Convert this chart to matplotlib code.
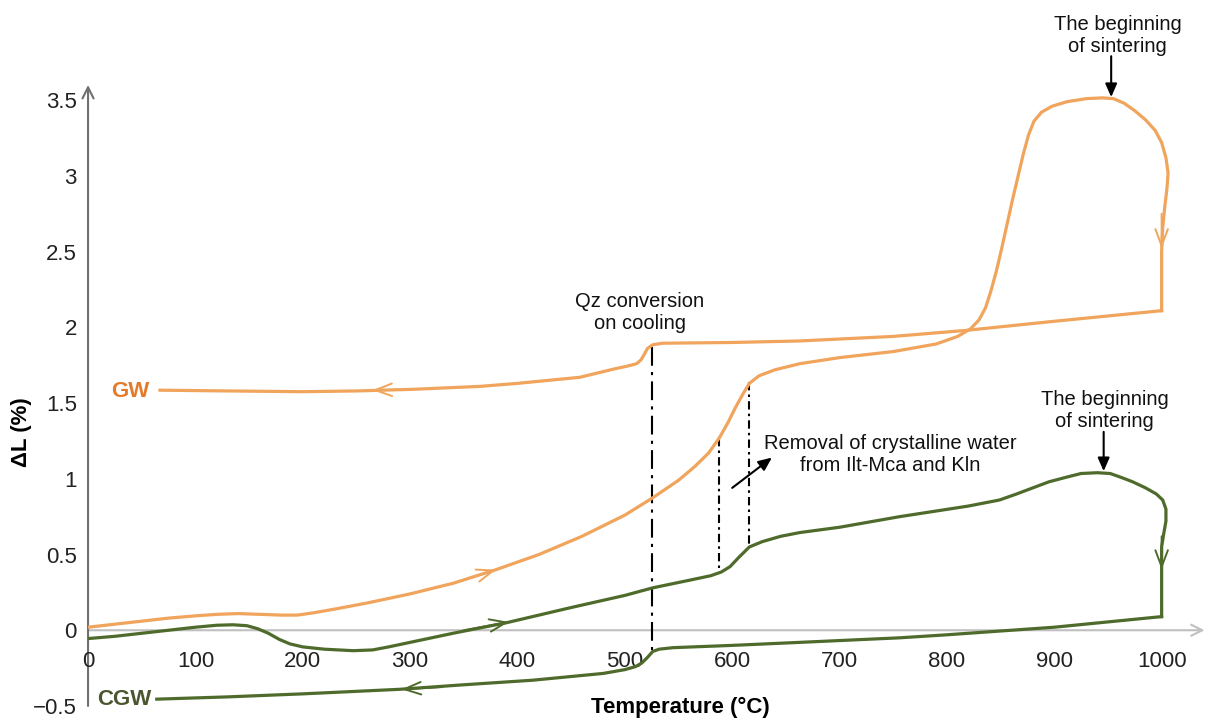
import matplotlib.pyplot as plt
import numpy as np

plt.rcParams["font.family"] = ["Liberation Sans", "DejaVu Sans"]

# -------------------------------------------------------
# DATA
# -------------------------------------------------------

# GW - heating branch (temperature, dL %)
gw_heat_t = [0, 25, 50, 75, 100, 120, 140, 160, 180, 195, 210, 230, 260, 300,
             340, 380, 420, 460, 500, 525, 550, 565, 578, 588, 596, 603, 610,
             616, 625, 640, 663, 700, 750, 790, 810, 822, 830, 836, 841, 846,
             851, 856, 861, 866, 871, 876, 881, 888, 898, 912, 930, 945, 955,
             965, 975, 985, 994, 1000, 1004, 1006, 1005, 1003, 1001, 1000, 1000]
gw_heat_dl = [0.02, 0.04, 0.06, 0.08, 0.095, 0.105, 0.11, 0.105, 0.10, 0.10,
              0.115, 0.14, 0.18, 0.24, 0.31, 0.40, 0.50, 0.62, 0.76, 0.87,
              0.99, 1.08, 1.17, 1.27, 1.37, 1.47, 1.56, 1.63, 1.68, 1.72, 1.76,
              1.80, 1.84, 1.89, 1.94, 1.99, 2.05, 2.13, 2.24, 2.37, 2.52, 2.68,
              2.84, 2.99, 3.14, 3.27, 3.36, 3.42, 3.46, 3.49, 3.51, 3.515,
              3.51, 3.48, 3.43, 3.37, 3.30, 3.22, 3.12, 3.02, 2.92, 2.80, 2.66,
              2.50, 2.11]

# GW - cooling branch
gw_cool_t = [1000, 900, 818, 750, 663, 600, 535, 526, 521, 518, 515, 511, 503,
             490, 458, 400, 365, 300, 250, 200, 130, 67]
gw_cool_dl = [2.11, 2.04, 1.98, 1.94, 1.91, 1.90, 1.895, 1.885, 1.86, 1.82,
              1.785, 1.76, 1.745, 1.725, 1.67, 1.63, 1.61, 1.59, 1.58, 1.575,
              1.58, 1.585]

# CGW - heating branch
cgw_heat_t = [0, 25, 50, 75, 100, 120, 135, 148, 158, 168, 178, 188, 200, 220,
              247, 265, 280, 300, 340, 390, 450, 500, 526, 560, 580, 590, 598,
              606, 616, 628, 645, 663, 700, 756, 820, 849, 865, 880, 895, 911,
              925, 940, 952, 962, 973, 985, 995, 1001, 1004, 1004, 1002, 1000,
              1000]
cgw_heat_dl = [-0.055, -0.04, -0.02, 0.0, 0.02, 0.033, 0.036, 0.03, 0.01,
               -0.02, -0.06, -0.09, -0.11, -0.125, -0.135, -0.13, -0.11, -0.08,
               -0.02, 0.05, 0.15, 0.23, 0.28, 0.33, 0.36, 0.385, 0.42, 0.48,
               0.55, 0.585, 0.62, 0.645, 0.68, 0.75, 0.82, 0.86, 0.90, 0.94,
               0.98, 1.01, 1.035, 1.04, 1.035, 1.01, 0.98, 0.94, 0.90, 0.86,
               0.80, 0.72, 0.64, 0.55, 0.09]

# CGW - cooling branch
cgw_cool_t = [1000, 900, 800, 756, 663, 600, 545, 532, 526, 521, 516, 510, 500,
              480, 414, 350, 290, 200, 130, 64]
cgw_cool_dl = [0.09, 0.02, -0.03, -0.05, -0.08, -0.10, -0.115, -0.125, -0.14,
               -0.18, -0.215, -0.24, -0.26, -0.285, -0.33, -0.36, -0.39, -0.42,
               -0.44, -0.455]

x_ticks = [0, 100, 200, 300, 400, 500, 600, 700, 800, 900, 1000]
y_ticks = [-0.5, 0, 0.5, 1, 1.5, 2, 2.5, 3, 3.5]
y_tick_labels = ["\u22120.5", "0", "0.5", "1", "1.5", "2", "2.5", "3", "3.5"]

# marker lines (temperature, top dL, bottom dL)
qz_line = (525, 1.87, -0.14)
water_lines = [(588, 1.27, 0.38), (616, 1.64, 0.56)]

orange = "#F0A45C"
orange_text = "#E47A2A"
green = "#4F6B2C"
green_text = "#4B5530"

# -------------------------------------------------------
# FIGURE
# -------------------------------------------------------

fig = plt.figure(figsize=(12.11, 7.24), dpi=100)
ax = fig.add_axes([0.0727, 0.0249, 0.922, 0.8577])
ax.set_xlim(0, 1040)
ax.set_ylim(-0.5, 3.6)

for s in ax.spines.values():
    s.set_visible(False)

# axis lines with open arrow heads
ax.annotate("", xy=(1040, 0), xytext=(0, 0),
            arrowprops=dict(arrowstyle="->,head_length=0.8,head_width=0.4",
                            color="#c0c0c0", lw=1.5, shrinkA=0, shrinkB=0),
            zorder=1)
ax.annotate("", xy=(0, 3.6), xytext=(0, -0.5),
            arrowprops=dict(arrowstyle="->,head_length=0.8,head_width=0.4",
                            color="#707070", lw=1.5, shrinkA=0, shrinkB=0),
            zorder=1)

ax.set_xticks(x_ticks)
ax.set_xticklabels([str(t) for t in x_ticks])
ax.set_yticks(y_ticks)
ax.set_yticklabels(y_tick_labels)
ax.tick_params(axis="both", length=0, labelsize=16, colors="#222222")
ax.tick_params(axis="y", pad=8)
# x tick labels sit just under the zero line
for lab in ax.get_xticklabels():
    lab.set_transform(ax.transData)
    lab.set_y(-0.135)
    lab.set_verticalalignment("top")

# curves
ax.plot(gw_heat_t, gw_heat_dl, color=orange, lw=2.3, zorder=3)
ax.plot(gw_cool_t, gw_cool_dl, color=orange, lw=2.3, zorder=3)
ax.plot(cgw_heat_t, cgw_heat_dl, color=green, lw=2.3, zorder=3)
ax.plot(cgw_cool_t, cgw_cool_dl, color=green, lw=2.3, zorder=3)


# direction chevrons on the curves
def chevron(x0, y0, x1, y1, color):
    ax.annotate("", xy=(x1, y1), xytext=(x0, y0),
                arrowprops=dict(arrowstyle="->,head_length=1.2,head_width=0.45",
                                color=color, lw=1.4, shrinkA=0, shrinkB=0),
                zorder=4)


chevron(340, 0.31, 380, 0.40, orange)
chevron(300, 1.59, 265, 1.585, orange)
chevron(1000, 2.75, 1000, 2.52, orange)
chevron(350, 0.0, 392, 0.055, green)
chevron(330, -0.375, 292, -0.39, green)
chevron(1000, 0.62, 1000, 0.40, green)

# dash-dot marker lines
ax.plot([qz_line[0], qz_line[0]], [qz_line[1], qz_line[2]], color="black",
        lw=1.5, linestyle=(0, (9, 3, 1.5, 3)), zorder=2)
for t, top, bot in water_lines:
    ax.plot([t, t], [top, bot], color="black", lw=1.5,
            linestyle=(0, (4, 2, 1.2, 2)), zorder=2)

# annotations
ax.text(514, 2.10, "Qz conversion\non cooling", ha="center", va="center",
        fontsize=14.5, linespacing=1.2, color="#111111")
ax.text(747, 1.16, "Removal of crystalline water\nfrom Ilt-Mca and Kln",
        ha="center", va="center", fontsize=14.5, linespacing=1.2,
        color="#111111")
ax.annotate("", xy=(637, 1.14), xytext=(600, 0.94),
            arrowprops=dict(arrowstyle="-|>,head_length=0.8,head_width=0.35",
                            color="black", lw=1.5, shrinkA=0, shrinkB=0))

ax.text(959, 3.93, "The beginning\nof sintering", ha="center", va="center",
        fontsize=14.5, linespacing=1.2, color="#111111", clip_on=False)
ax.annotate("", xy=(953, 3.52), xytext=(953, 3.79),
            arrowprops=dict(arrowstyle="-|>,head_length=0.8,head_width=0.35",
                            color="black", lw=1.5, shrinkA=0, shrinkB=0))

ax.text(947, 1.45, "The beginning\nof sintering", ha="center", va="center",
        fontsize=14.5, linespacing=1.2, color="#111111")
ax.annotate("", xy=(946, 1.05), xytext=(946, 1.31),
            arrowprops=dict(arrowstyle="-|>,head_length=0.8,head_width=0.35",
                            color="black", lw=1.5, shrinkA=0, shrinkB=0))

# series labels
ax.text(39, 1.575, "GW", ha="center", va="center", fontsize=16,
        fontweight="bold", color=orange_text)
ax.text(34, -0.46, "CGW", ha="center", va="center", fontsize=16,
        fontweight="bold", color=green_text)

# axis titles
fig.text(680 / 1211, 1 - 707 / 724, "Temperature (\u00b0C)", ha="center",
         va="center", fontsize=16, fontweight="bold")
fig.text(22 / 1211, 1 - 432 / 724, "\u0394L (%)", ha="center", va="center",
         rotation=90, fontsize=16, fontweight="bold")

plt.savefig("out.png", dpi=100)
